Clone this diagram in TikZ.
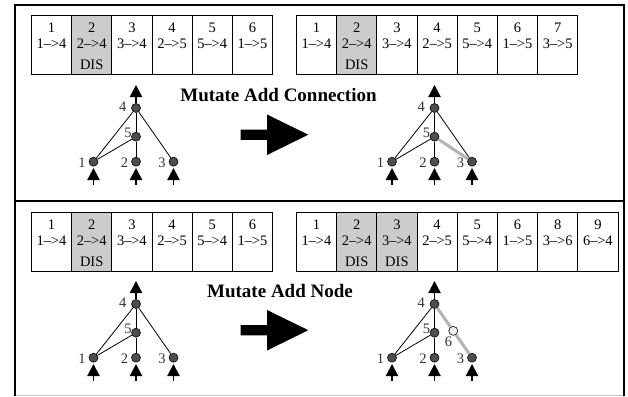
\documentclass[tikz,border=0pt]{standalone}
\usepackage{fontspec}
\setmainfont{Liberation Serif}
\usetikzlibrary{arrows.meta,calc}
\definecolor{cellgray}{HTML}{CCCCCC}
\definecolor{nodegray}{HTML}{4E4E4E}
\definecolor{newgray}{HTML}{B4B4B4}
\definecolor{labgray}{HTML}{333333}
\definecolor{lightnode}{HTML}{EEEEEE}
\tikzset{
  cellbox/.style={draw, line width=0.8pt, minimum width=40.2pt, minimum height=59pt, inner sep=0pt, anchor=north west},
  ctext/.style={anchor=base, inner sep=0pt, font=\fontsize{14.5}{15}\selectfont},
  nd/.style={circle, draw, line width=0.6pt, fill=nodegray, minimum size=9pt, inner sep=0pt},
  lab/.style={inner sep=0pt, text=labgray, font=\fontsize{14.5}{14.5}\selectfont},
  edge/.style={draw, line width=0.8pt},
  newedge/.style={draw=newgray, line width=3pt},
  outarrow/.style={line width=1.6pt, -{Triangle[width=12.2pt,length=12pt]}},
  inarrow/.style={line width=1.6pt, shorten >=1.5pt, -{Triangle[width=12.2pt,length=12pt]}},
  frame/.style={line width=2pt},
  title/.style={anchor=base, inner sep=0pt, font=\fontsize{19}{19}\selectfont\bfseries},
}
\newcommand\genecell[7]{%
  \ifnum#7=1 \node[cellbox,fill=cellgray] (#1) at ({#2},#3) {};\else\node[cellbox] (#1) at ({#2},#3) {};\fi
  \node[ctext] (#1num) at ([yshift=-17.5pt]#1.north) {#4};
  \node[ctext] (#1con) at ([yshift=-33.5pt]#1.north) {#5\textendash\kern-0.3pt>#6};
  \ifnum#7=1 \node[ctext] (#1dis) at ([yshift=-55pt]#1.north) {DIS};\fi
}
\newcommand\nlab[4]{\node[lab] (#1lab) at ([xshift=#2pt,yshift=#3pt]#1.center) {#4};}
\newcommand\basenet[1]{%
  \node[nd] (#1n4) at (136,108) {};
  \node[nd] (#1n5) at (136,136.7) {};
  \node[nd] (#1n1) at (93.5,161.7) {};
  \node[nd] (#1n2) at (136,161.7) {};
  \node[nd] (#1n3) at (173.5,161.7) {};
  \coordinate (#1out) at (136,85);
  \coordinate (#1in1) at (93.5,185);
  \coordinate (#1in2) at (136,185);
  \coordinate (#1in3) at (173.5,185);
  \draw[edge] (#1n4) -- (#1n1);
  \draw[edge] (#1n4) -- (#1n5);
  \draw[edge] (#1n5) -- (#1n1);
  \draw[edge] (#1n5) -- (#1n2);
  \draw[outarrow] (#1n4) -- (#1out);
  \draw[inarrow] (#1in1) -- (#1n1);
  \draw[inarrow] (#1in2) -- (#1n2);
  \draw[inarrow] (#1in3) -- (#1n3);
  \nlab{#1n4}{-13.3}{1.6}{4}
  \nlab{#1n5}{-8}{3.4}{5}
  \nlab{#1n1}{-11.5}{-0.6}{1}
  \nlab{#1n2}{-11.5}{-0.6}{2}
  \nlab{#1n3}{-11.5}{-0.6}{3}
}
\begin{document}
\begin{tikzpicture}[x=1pt,y=-1pt]
\useasboundingbox (0,0) rectangle (628,396);
% frames
\draw[frame] (14.5,395.5) -- (14.5,5.5) -- (624,5.5) -- (624,395.5);
\draw[frame] (14.5,200.5) -- (624,200.5);
\draw[gray!45, line width=0.8pt] (15.5,395.2) -- (623,395.2);
% genome tables
\foreach \n/\a/\b/\d [count=\i from 0] in {1/1/4/0,2/2/4/1,3/3/4/0,4/2/5/0,5/5/4/0,6/1/5/0}{
  \genecell{ta\n}{31+40.2*\i}{15}{\n}{\a}{\b}{\d}
}
\foreach \n/\a/\b/\d [count=\i from 0] in {1/1/4/0,2/2/4/1,3/3/4/0,4/2/5/0,5/5/4/0,6/1/5/0,7/3/5/0}{
  \genecell{tb\n}{296+40.2*\i}{15}{\n}{\a}{\b}{\d}
}
\foreach \n/\a/\b/\d [count=\i from 0] in {1/1/4/0,2/2/4/1,3/3/4/0,4/2/5/0,5/5/4/0,6/1/5/0}{
  \genecell{tc\n}{31+40.2*\i}{211.5}{\n}{\a}{\b}{\d}
}
\foreach \n/\a/\b/\d [count=\i from 0] in {1/1/4/0,2/2/4/1,3/3/4/1,4/2/5/0,5/5/4/0,6/1/5/0,8/3/6/0,9/6/4/0}{
  \genecell{td\n}{296+40.2*\i}{211.5}{\n}{\a}{\b}{\d}
}
% titles
\node[title] (title1) at (278.5,101.5) {Mutate Add Connection};
\node[title] (title2) at (280,297) {Mutate Add Node};
% big arrows
\fill (240.7,129.5) -- (267,129.5) -- (267,114.5) -- (308.3,134.7) -- (267,155) -- (267,139.8) -- (240.7,139.8) -- cycle;
\begin{scope}[shift={(0,195.5)}]
\fill (240.7,129.5) -- (267,129.5) -- (267,114.5) -- (308.3,134.7) -- (267,155) -- (267,139.8) -- (240.7,139.8) -- cycle;
\end{scope}
% networks
\basenet{a}
\draw[edge] (an4) -- (an3);
\begin{scope}[shift={(298.5,0)}]
\basenet{b}
\draw[edge] (bn4) -- (bn3);
\draw[newedge] (bn5) -- (bn3);
\end{scope}
\begin{scope}[shift={(0,196)}]
\basenet{c}
\draw[edge] (cn4) -- (cn3);
\end{scope}
\begin{scope}[shift={(298.5,196)}]
\basenet{d}
\end{scope}
\node[nd, fill=lightnode] (dn6) at ($(dn4)!0.5!(dn3)$) {};
\draw[newedge] (dn4) -- (dn6);
\draw[newedge] (dn6) -- (dn3);
\nlab{dn6}{-4.7}{-11.3}{6}
\end{tikzpicture}
\end{document}
